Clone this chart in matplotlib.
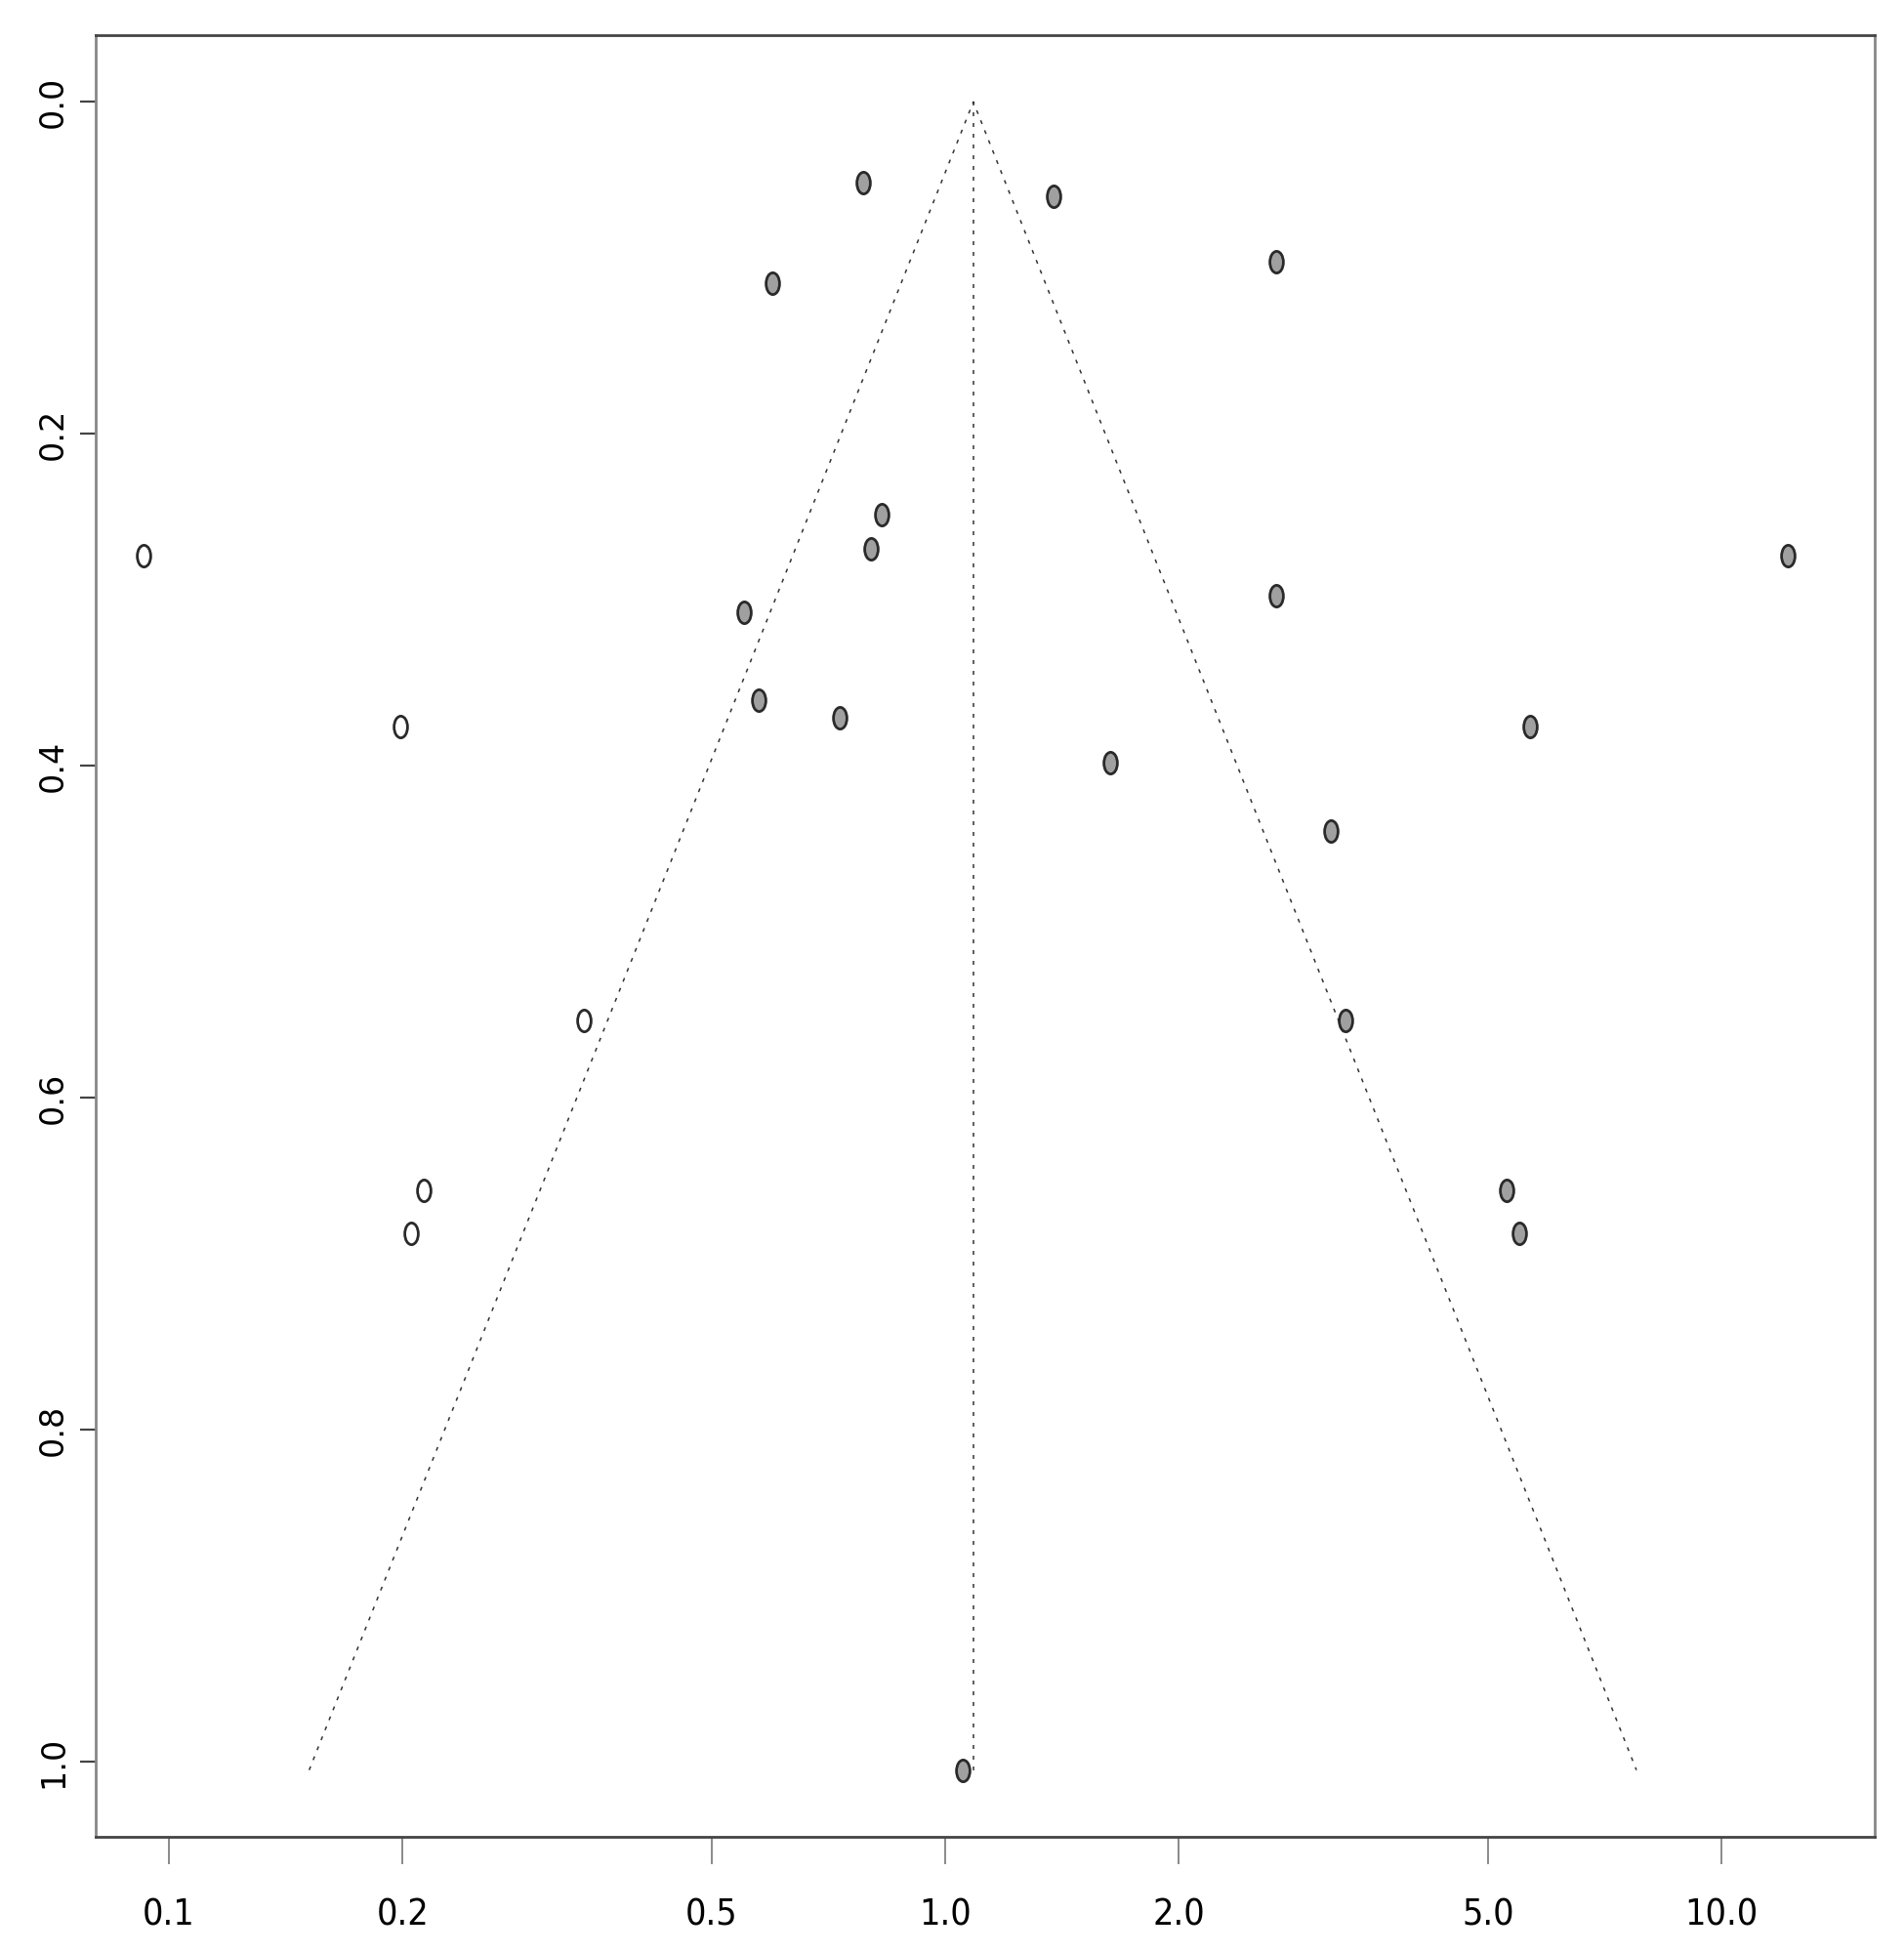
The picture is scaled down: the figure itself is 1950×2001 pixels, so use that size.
import matplotlib
matplotlib.use("Agg")
import matplotlib.pyplot as plt
from matplotlib.path import Path
from matplotlib.transforms import Affine2D

# observed studies (odds ratio, standard error)
obs_or = [0.785, 1.380, 0.599, 2.667, 0.829, 0.802, 12.18, 0.550, 2.667,
          0.575, 0.731, 5.667, 1.632, 3.138, 3.280, 5.284, 5.482, 1.053]
obs_se = [0.0486, 0.0569, 0.1092, 0.0965, 0.2488, 0.2691, 0.2736, 0.3074, 0.2976,
          0.3607, 0.3712, 0.3764, 0.3982, 0.4395, 0.5535, 0.6556, 0.6819, 1.005]

# imputed studies (trim and fill)
fill_or = [0.0927, 0.1984, 0.3428, 0.2128, 0.2051]
fill_se = [0.2736, 0.3764, 0.5535, 0.6556, 0.6819]

# pooled estimate and funnel limits at the bottom
pooled = 1.087
funnel_lo = 0.1516
funnel_hi = 7.77
se_max = 1.005

xticks = [0.1, 0.2, 0.5, 1.0, 2.0, 5.0, 10.0]
xtick_labels = ["0.1", "0.2", "0.5", "1.0", "2.0", "5.0", "10.0"]
yticks = [0.0, 0.2, 0.4, 0.6, 0.8, 1.0]
ytick_labels = ["0.0", "0.2", "0.4", "0.6", "0.8", "1.0"]

# tall ellipse marker
ell = Path.unit_circle().transformed(Affine2D().scale(0.62, 1.0))

fig = plt.figure(figsize=(19.5, 20.01), dpi=100)
ax = fig.add_axes([0.0503, 0.0600, 0.9344, 0.9220])

dots = (0, (2.6, 4.6))
ax.plot([funnel_lo, pooled, funnel_hi], [se_max, 0, se_max],
        color="#333333", lw=1.1, linestyle=dots)
ax.plot([pooled, pooled], [0, se_max], color="#333333", lw=1.1, linestyle=dots)

ax.plot(obs_or, obs_se, linestyle="none", marker=ell, markersize=16,
        markerfacecolor="#a0a0a0", markeredgecolor="#2a2a2a", markeredgewidth=2.0)
ax.plot(fill_or, fill_se, linestyle="none", marker=ell, markersize=16,
        markerfacecolor="white", markeredgecolor="#2a2a2a", markeredgewidth=2.0)

ax.set_xscale("log")
ax.set_xlim(0.0805, 15.76)
ax.set_ylim(1.04 * se_max, -0.04 * se_max)

ax.set_xticks(xticks)
ax.set_xticklabels(xtick_labels, family="DejaVu Sans", fontstretch="condensed",
                   fontsize=27)
ax.xaxis.set_minor_locator(matplotlib.ticker.NullLocator())
ax.tick_params(axis="x", length=20, width=1.2, color="#777777", pad=25)

ax.set_yticks(yticks)
ax.set_yticklabels(ytick_labels, fontsize=24, rotation=90, va="center")
ax.tick_params(axis="y", length=11.5, width=1.6, color="#444444", pad=8)

for side in ["left", "right"]:
    ax.spines[side].set_color("#888888")
    ax.spines[side].set_linewidth(2.0)
for side in ["top", "bottom"]:
    ax.spines[side].set_color("#444444")
    ax.spines[side].set_linewidth(2.0)

fig.savefig("out.png", dpi=100)
